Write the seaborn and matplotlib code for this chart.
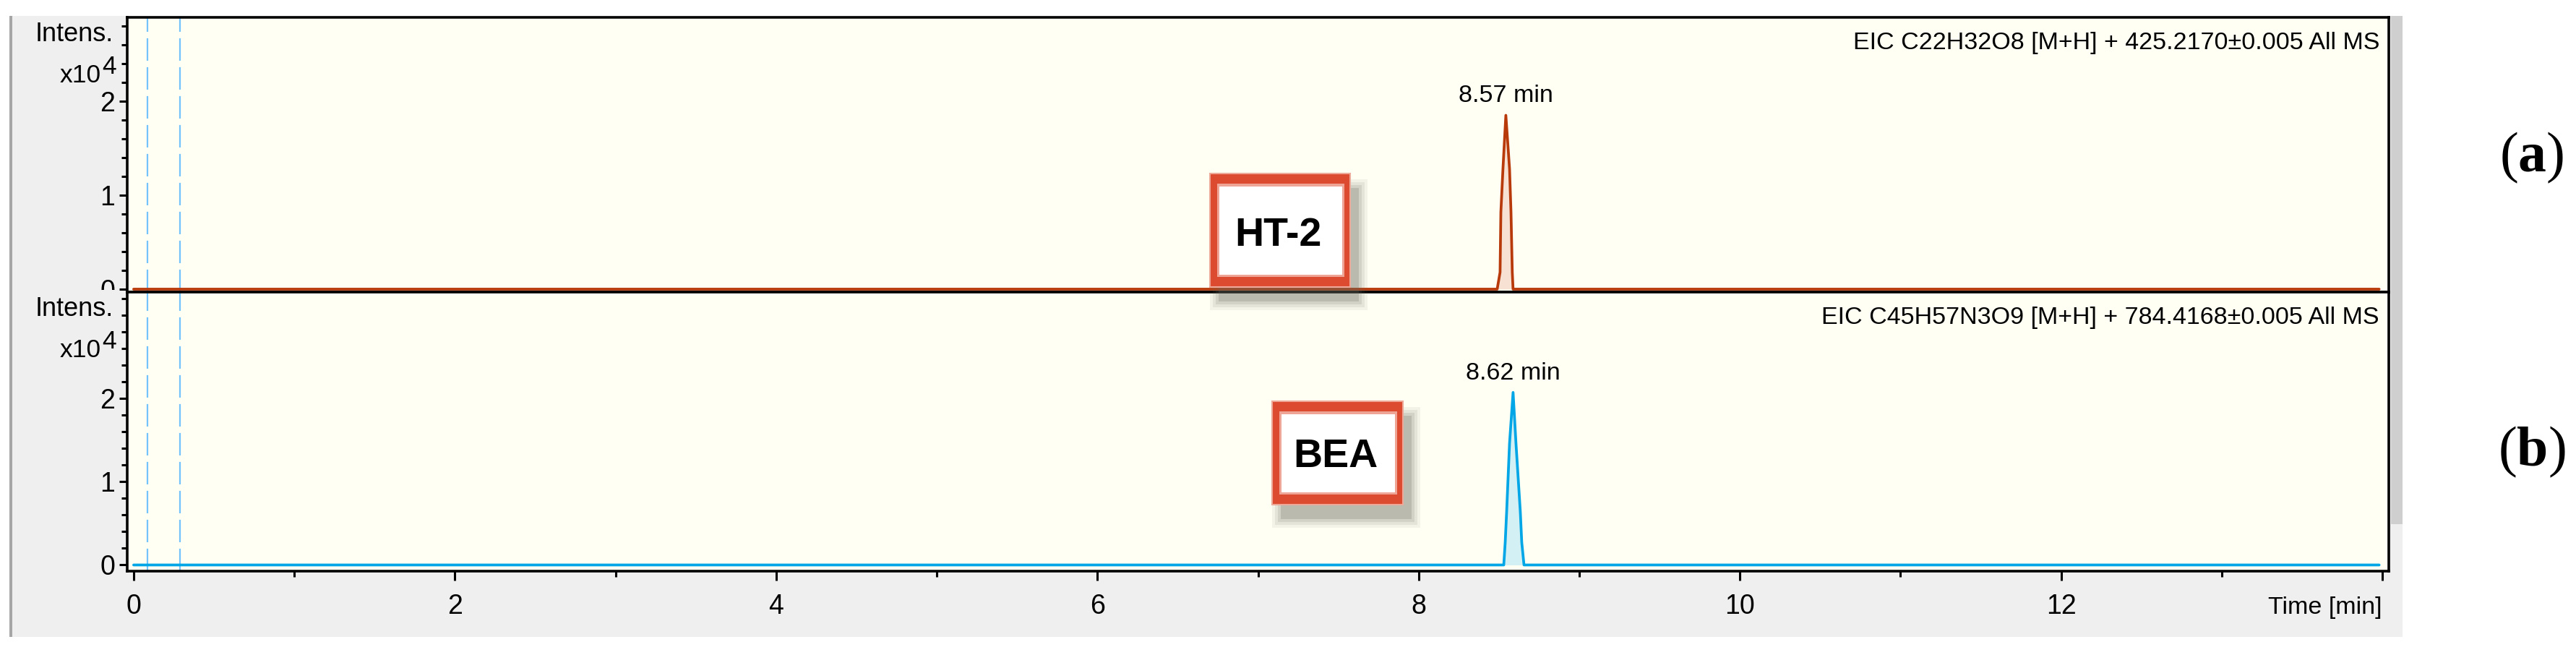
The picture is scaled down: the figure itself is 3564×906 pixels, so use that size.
import matplotlib
matplotlib.use("Agg")
import numpy as np
import pandas as pd
import matplotlib.pyplot as plt
import seaborn as sns
from matplotlib.patches import Rectangle
from matplotlib.ticker import MultipleLocator, FixedLocator, FixedFormatter
from matplotlib.transforms import Bbox, TransformedBbox

# ---------------- data ----------------
ht2_time = [0.00, 8.489, 8.507, 8.512, 8.525, 8.543, 8.566, 8.575, 8.583, 8.588, 13.98]
ht2_intensity = [0, 0, 1800, 8200, 12800, 18500, 12800, 8200, 1800, 0, 0]
bea_time = [0.00, 8.530, 8.539, 8.548, 8.566, 8.588, 8.606, 8.633, 8.642, 8.656, 13.98]
bea_intensity = [0, 0, 2700, 6400, 14600, 20700, 14600, 6400, 2700, 0, 0]

ht2_peak_label = "8.57 min"
bea_peak_label = "8.62 min"
ht2_trace_title = "EIC C22H32O8 [M+H] + 425.2170\u00b10.005 All MS"
bea_trace_title = "EIC C45H57N3O9 [M+H] + 784.4168\u00b10.005 All MS"
compound_names = ["HT-2", "BEA"]
panel_tags = ["a", "b"]
marker_times = [0.085, 0.29]

x_major = [0, 2, 4, 6, 8, 10, 12, 14]
x_labels = ["0", "2", "4", "6", "8", "10", "12", ""]
y_major = [0, 10000, 20000]
y_labels = ["0", "1", "2"]

# ---------------- style ----------------
sns.set_theme(style="ticks")
plt.rcParams["font.family"] = ["Liberation Sans", "DejaVu Sans"]
plt.rcParams["mathtext.fontset"] = "custom"
plt.rcParams["mathtext.rm"] = "Liberation Serif"
plt.rcParams["mathtext.bf"] = "Liberation Serif:bold"
plt.rcParams["axes.grid"] = False

FS = 24.5      # general UI text
FS_TICK = 27   # tick digits

W, H, DPI = 3564, 906, 100
fig = plt.figure(figsize=(W / DPI, H / DPI), dpi=DPI)
fig.patch.set_facecolor("white")


def fx(px):
    return px / W


def fy(py):
    return 1 - py / H


def ax_rect(l, t, r, b):
    return [fx(l), fy(b), fx(r) - fx(l), fy(t) - fy(b)]


def fig_rect(l, t, r, b, **kw):
    rect = Rectangle((fx(l), fy(b)), fx(r) - fx(l), fy(t) - fy(b),
                     transform=fig.transFigure, **kw)
    fig.add_artist(rect)
    return rect


# software window background
fig_rect(17, 22, 3324, 881, facecolor="#efefef", edgecolor="none", zorder=-10)
fig_rect(13, 22, 17, 881, facecolor="#a6a6a6", edgecolor="none", zorder=-9)
fig_rect(3308, 22, 3324, 725, facecolor="#cfcfcf", edgecolor="none", zorder=-9)

ax_top = fig.add_axes(ax_rect(176, 24, 3305, 404))
ax_bot = fig.add_axes(ax_rect(176, 404, 3305, 790))

panels = [
    dict(ax=ax_top, t=ht2_time, y=ht2_intensity, color="#b8390a", fill="#f7e1d2",
         ylim=(-310, 28920), title=ht2_trace_title, peak=ht2_peak_label, top=24),
    dict(ax=ax_bot, t=bea_time, y=bea_intensity, color="#00a6e6", fill="#d3f0f4",
         ylim=(-740, 32740), title=bea_trace_title, peak=bea_peak_label, top=404),
]

for i, p in enumerate(panels):
    ax = p["ax"]
    ax.set_facecolor("#fffff4")
    df = pd.DataFrame({"Time": p["t"], "Intensity": p["y"]})
    # integrated peak area
    ax.fill_between(p["t"][1:-1], p["y"][1:-1], color=p["fill"], linewidth=0, zorder=1.5)
    sns.lineplot(data=df, x="Time", y="Intensity", ax=ax, color=p["color"],
                 linewidth=2.7, estimator=None, sort=False, zorder=2)
    for mt in marker_times:
        ax.axvline(mt, color="#74c4fb", linewidth=1.6, linestyle=(0, (14, 4)), zorder=1)
    ax.set_xlim(-0.04, 14.04)
    ax.set_ylim(*p["ylim"])
    ax.set_xlabel("")
    ax.set_ylabel("")
    for s in ax.spines.values():
        s.set_visible(True)
        s.set_color("black")
        s.set_linewidth(2.6)

    ax.yaxis.set_major_locator(FixedLocator(y_major))
    ax.yaxis.set_major_formatter(FixedFormatter(y_labels))
    ax.yaxis.set_minor_locator(MultipleLocator(2000))
    ax.tick_params(axis="y", which="major", direction="out", length=7.9, width=2.2,
                   pad=4, labelsize=FS_TICK, colors="black", left=True, right=False)
    ax.tick_params(axis="y", which="minor", direction="out", length=5.8, width=2.2,
                   left=True, right=False, colors="black")

    # peak retention-time label
    k = int(np.argmax(p["y"]))
    ax.annotate(p["peak"], xy=(p["t"][k], p["y"][k]), xytext=(0, 18),
                textcoords="offset pixels", ha="center", va="baseline",
                fontsize=FS, color="black", zorder=4)

    # trace description
    fig.text(fx(3292), fy(p["top"] + 44), p["title"], ha="right", va="baseline",
             fontsize=FS, color="black")
    # y axis caption
    fig.text(fx(157), fy(p["top"] + 33), "Intens.", ha="right", va="baseline",
             fontsize=26, color="black")
    fig.text(fx(140), fy(p["top"] + 90), "x10", ha="right", va="baseline",
             fontsize=25.5, color="black")
    fig.text(fx(141), fy(p["top"] + 78), "4", ha="left", va="baseline",
             fontsize=25.5, color="black")

ax_top.tick_params(axis="x", which="both", bottom=False, top=False, labelbottom=False)
ax_bot.xaxis.set_major_locator(FixedLocator(x_major))
ax_bot.xaxis.set_major_formatter(FixedFormatter(x_labels))
ax_bot.xaxis.set_minor_locator(MultipleLocator(1))
ax_bot.tick_params(axis="x", which="major", direction="out", length=9.4, width=2.2,
                   pad=13, labelsize=FS_TICK, colors="black", bottom=True, top=False)
ax_bot.tick_params(axis="x", which="minor", direction="out", length=5.8, width=2.2,
                   bottom=True, top=False, colors="black")

fig.text(fx(3295), fy(849), "Time [min]", ha="right", va="baseline", fontsize=FS,
         color="black")

# top panel "0" label is half hidden behind the lower panel
lab0 = ax_top.yaxis.get_major_ticks()[0].label1
lab0.set_clip_box(TransformedBbox(Bbox([[0, fy(401)], [1, 1]]), fig.transFigure))
lab0.set_clip_on(True)


# compound boxes with drop shadows
def draw_box(l, t, r, b, text, cx, base):
    for grow, a in [(12, 0.08), (8, 0.10), (4, 0.14), (0, 0.22)]:
        fig_rect(l + 12 - grow, t + 20 - grow, r + 12 + grow, b + 20 + grow,
                 facecolor="#66665e", edgecolor="none", alpha=a, zorder=5)
    fig_rect(l, t, r, b, facecolor="#dc4a2f", edgecolor="#eea898", linewidth=1.5, zorder=6)
    fig_rect(l + 10, t + 14, r - 8, b - 14, facecolor="#eea595", edgecolor="none", zorder=6.1)
    fig_rect(l + 13, t + 18, r - 11, b - 17, facecolor="white", edgecolor="none", zorder=6.2)
    fig.text(fx(cx), fy(base), text, ha="center", va="baseline", fontsize=40,
             fontweight="bold", color="black", zorder=7)


draw_box(1674, 240, 1868, 397, compound_names[0], 1768, 340)
draw_box(1760, 555, 1941, 698, compound_names[1], 1848, 646)

# panel tags
for tag, yc in zip(panel_tags, [218, 625]):
    fig.text(fx(3503), fy(yc), "(" + r"$\mathbf{" + tag + "}$" + ")", ha="center",
             va="center", fontsize=56, family="Liberation Serif", color="black")

fig.savefig("out.png", dpi=DPI, facecolor="white")
